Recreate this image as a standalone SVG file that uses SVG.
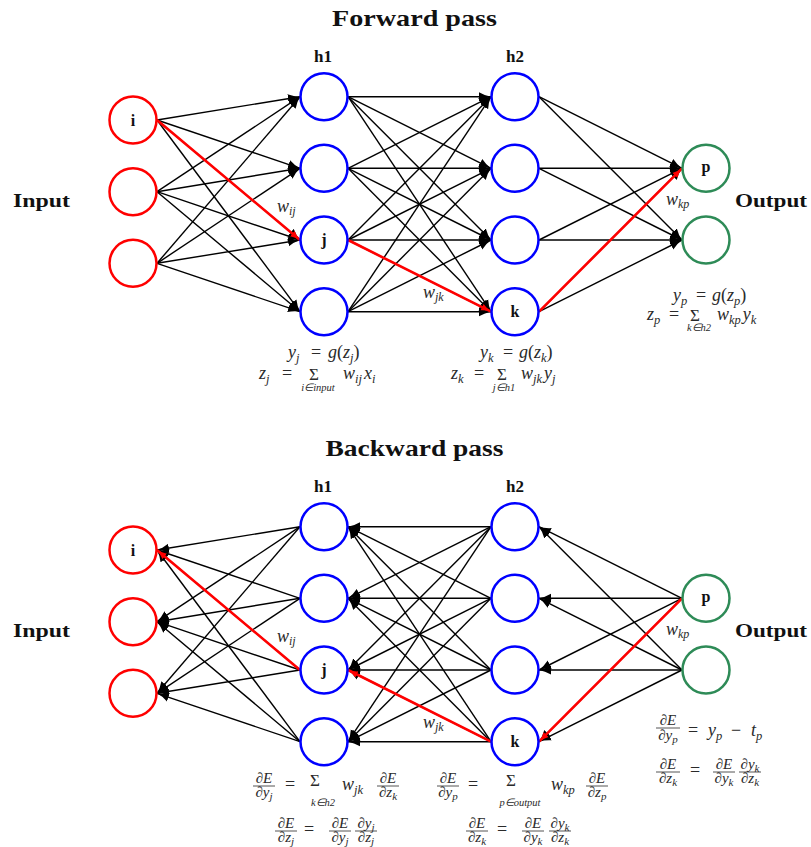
<svg xmlns="http://www.w3.org/2000/svg" width="811" height="847" viewBox="0 0 811 847">
<defs>
<style>
.t{font-family:"Liberation Serif",serif;font-weight:bold;fill:#111}
.ttl{font-size:24px;text-anchor:middle}
.lay{font-size:17px;text-anchor:middle}
.io{font-size:19px}
.lbl{font-family:"Liberation Serif",serif;font-weight:bold;font-size:16px;text-anchor:middle;fill:#111}
.n circle{fill:#fff;stroke-width:2.5}
.in circle{stroke:#f00}
.hid circle{stroke:#00f}
.out circle{stroke:#2e8b57}
.e line{stroke:#000;stroke-width:1.4;marker-end:url(#ah)}
.r line{stroke:#f00;stroke-width:2.6;marker-end:url(#ahr)}
.m{font-family:"Liberation Serif",serif;font-style:italic;font-size:18px;fill:#2a2a2a}
.up{font-style:normal}
.s{font-size:12.5px}
.sig{font-size:17px;font-style:normal}
.lim{font-size:10.5px}
.f{font-size:15px}
.fs{font-size:11px}
.w{font-size:18px}
.ws{font-size:12px}
.bar{stroke:#2a2a2a;stroke-width:0.8}
</style>
<marker id="ah" viewBox="0 0 12 10" refX="12" refY="5" markerWidth="12" markerHeight="10" markerUnits="userSpaceOnUse" orient="auto">
<path d="M0,0.5 Q6,4 12,5 Q6,6 0,9.5 z" fill="#000"/>
</marker>
<marker id="ahr" viewBox="0 0 10 8" refX="10" refY="4" markerWidth="10" markerHeight="8" markerUnits="userSpaceOnUse" orient="auto">
<path d="M0,0.5 Q5,3.3 10,4 Q5,4.7 0,7.5 z" fill="#f00"/>
</marker>
</defs>
<rect width="811" height="847" fill="#fff"/>

<!-- forward pass -->
<g id="forward">
<text class="t ttl" x="414.5" y="26" textLength="165" lengthAdjust="spacingAndGlyphs">Forward pass</text>
<text class="t lay" x="323" y="62">h1</text>
<text class="t lay" x="515" y="62">h2</text>
<text class="t io" x="13" y="207" textLength="57" lengthAdjust="spacingAndGlyphs">Input</text>
<text class="t io" x="735" y="207" textLength="72" lengthAdjust="spacingAndGlyphs">Output</text>

<g id="f-edges" class="e">
<line x1="157" y1="120" x2="300" y2="96.7"/><line x1="157" y1="120" x2="300" y2="168.3"/><line x1="157" y1="120" x2="300" y2="240"/><line x1="157" y1="120" x2="300" y2="311.7"/>
<line x1="157" y1="191.7" x2="300" y2="96.7"/><line x1="157" y1="191.7" x2="300" y2="168.3"/><line x1="157" y1="191.7" x2="300" y2="240"/><line x1="157" y1="191.7" x2="300" y2="311.7"/>
<line x1="157" y1="263.3" x2="300" y2="96.7"/><line x1="157" y1="263.3" x2="300" y2="168.3"/><line x1="157" y1="263.3" x2="300" y2="240"/><line x1="157" y1="263.3" x2="300" y2="311.7"/>
<line x1="348" y1="96.7" x2="491" y2="96.7"/><line x1="348" y1="96.7" x2="491" y2="168.3"/><line x1="348" y1="96.7" x2="491" y2="240"/><line x1="348" y1="96.7" x2="491" y2="311.7"/>
<line x1="348" y1="168.3" x2="491" y2="96.7"/><line x1="348" y1="168.3" x2="491" y2="168.3"/><line x1="348" y1="168.3" x2="491" y2="240"/><line x1="348" y1="168.3" x2="491" y2="311.7"/>
<line x1="348" y1="240" x2="491" y2="96.7"/><line x1="348" y1="240" x2="491" y2="168.3"/><line x1="348" y1="240" x2="491" y2="240"/><line x1="348" y1="240" x2="491" y2="311.7"/>
<line x1="348" y1="311.7" x2="491" y2="96.7"/><line x1="348" y1="311.7" x2="491" y2="168.3"/><line x1="348" y1="311.7" x2="491" y2="240"/><line x1="348" y1="311.7" x2="491" y2="311.7"/>
<line x1="539" y1="96.7" x2="682" y2="168.3"/><line x1="539" y1="96.7" x2="682" y2="240"/>
<line x1="539" y1="168.3" x2="682" y2="168.3"/><line x1="539" y1="168.3" x2="682" y2="240"/>
<line x1="539" y1="240" x2="682" y2="168.3"/><line x1="539" y1="240" x2="682" y2="240"/>
<line x1="539" y1="311.7" x2="682" y2="168.3"/><line x1="539" y1="311.7" x2="682" y2="240"/>
</g>
<g id="f-path" class="r">
<line x1="157" y1="120" x2="300" y2="240"/>
<line x1="348" y1="240" x2="491" y2="311.7"/>
<line x1="539" y1="311.7" x2="682" y2="168.3"/>
</g>

<g id="f-in-i" class="n in"><circle cx="133" cy="120" r="23.5"/><text class="lbl" x="133" y="126">i</text></g>
<g id="f-in-2" class="n in"><circle cx="133" cy="191.7" r="23.5"/></g>
<g id="f-in-3" class="n in"><circle cx="133" cy="263.3" r="23.5"/></g>
<g id="f-h1-1" class="n hid"><circle cx="324" cy="96.7" r="23.5"/></g>
<g id="f-h1-2" class="n hid"><circle cx="324" cy="168.3" r="23.5"/></g>
<g id="f-h1-j" class="n hid"><circle cx="324" cy="240" r="23.5"/><text class="lbl" x="324" y="245">j</text></g>
<g id="f-h1-4" class="n hid"><circle cx="324" cy="311.7" r="23.5"/></g>
<g id="f-h2-1" class="n hid"><circle cx="515" cy="96.7" r="23.5"/></g>
<g id="f-h2-2" class="n hid"><circle cx="515" cy="168.3" r="23.5"/></g>
<g id="f-h2-3" class="n hid"><circle cx="515" cy="240" r="23.5"/></g>
<g id="f-h2-k" class="n hid"><circle cx="515" cy="311.7" r="23.5"/><text class="lbl" x="515" y="317">k</text></g>
<g id="f-out-p" class="n out"><circle cx="706" cy="168.3" r="23.5"/><text class="lbl" x="706" y="172">p</text></g>
<g id="f-out-2" class="n out"><circle cx="706" cy="240" r="23.5"/></g>

<text class="m w" x="277" y="212">w<tspan class="ws" dy="3">ij</tspan></text>
<text class="m w" x="423" y="298">w<tspan class="ws" dy="3">jk</tspan></text>
<text class="m w" x="666" y="205">w<tspan class="ws" dy="3">kp</tspan></text>

<!-- activations -->
<text class="m" x="288" y="358">y<tspan class="s" dy="4">j</tspan><tspan class="up" x="311" dy="-4">=</tspan><tspan x="328">g</tspan><tspan class="up">(</tspan>z<tspan class="s" dy="4">j</tspan><tspan class="up" dy="-4">)</tspan></text>
<text class="m" x="259" y="379">z<tspan class="s" dy="4">j</tspan><tspan class="up" x="282" dy="-4">=</tspan></text>
<text class="m sig" x="314" y="380" text-anchor="middle">Σ</text>
<text class="m lim" x="318" y="391" text-anchor="middle">i∈input</text>
<text class="m" x="343" y="379">w<tspan class="s" dy="4">ij</tspan><tspan dx="2" dy="-4">x</tspan><tspan class="s" dy="4">i</tspan></text>

<text class="m" x="480" y="358">y<tspan class="s" dy="4">k</tspan><tspan class="up" x="503" dy="-4">=</tspan><tspan x="519">g</tspan><tspan class="up">(</tspan>z<tspan class="s" dy="4">k</tspan><tspan class="up" dy="-4">)</tspan></text>
<text class="m" x="451" y="379">z<tspan class="s" dy="4">k</tspan><tspan class="up" x="474" dy="-4">=</tspan></text>
<text class="m sig" x="502" y="380" text-anchor="middle">Σ</text>
<text class="m lim" x="504" y="391" text-anchor="middle">j∈h1</text>
<text class="m" x="521" y="379">w<tspan class="s" dy="4">jk</tspan><tspan dx="2" dy="-4">y</tspan><tspan class="s" dy="4">j</tspan></text>

<text class="m" x="673" y="301">y<tspan class="s" dy="4">p</tspan><tspan class="up" x="696" dy="-4">=</tspan><tspan x="712">g</tspan><tspan class="up">(</tspan>z<tspan class="s" dy="4">p</tspan><tspan class="up" dy="-4">)</tspan></text>
<text class="m" x="647" y="320">z<tspan class="s" dy="4">p</tspan><tspan class="up" x="669" dy="-4">=</tspan></text>
<text class="m sig" x="695" y="321" text-anchor="middle">Σ</text>
<text class="m lim" x="699" y="331" text-anchor="middle">k∈h2</text>
<text class="m" x="717" y="320">w<tspan class="s" dy="4">kp</tspan><tspan dx="2" dy="-4">y</tspan><tspan class="s" dy="4">k</tspan></text>
</g>

<!-- backward pass: same layout shifted down, arrows reversed -->
<g id="backward" transform="translate(0,430)">
<text class="t ttl" x="414.5" y="26" textLength="178" lengthAdjust="spacingAndGlyphs">Backward pass</text>
<text class="t lay" x="323" y="62">h1</text>
<text class="t lay" x="515" y="62">h2</text>
<text class="t io" x="13" y="207" textLength="57" lengthAdjust="spacingAndGlyphs">Input</text>
<text class="t io" x="735" y="207" textLength="72" lengthAdjust="spacingAndGlyphs">Output</text>

<g id="b-edges" class="e">
<line x2="157" y2="120" x1="300" y1="96.7"/><line x2="157" y2="120" x1="300" y1="168.3"/><line x2="157" y2="120" x1="300" y1="240"/><line x2="157" y2="120" x1="300" y1="311.7"/>
<line x2="157" y2="191.7" x1="300" y1="96.7"/><line x2="157" y2="191.7" x1="300" y1="168.3"/><line x2="157" y2="191.7" x1="300" y1="240"/><line x2="157" y2="191.7" x1="300" y1="311.7"/>
<line x2="157" y2="263.3" x1="300" y1="96.7"/><line x2="157" y2="263.3" x1="300" y1="168.3"/><line x2="157" y2="263.3" x1="300" y1="240"/><line x2="157" y2="263.3" x1="300" y1="311.7"/>
<line x2="348" y2="96.7" x1="491" y1="96.7"/><line x2="348" y2="96.7" x1="491" y1="168.3"/><line x2="348" y2="96.7" x1="491" y1="240"/><line x2="348" y2="96.7" x1="491" y1="311.7"/>
<line x2="348" y2="168.3" x1="491" y1="96.7"/><line x2="348" y2="168.3" x1="491" y1="168.3"/><line x2="348" y2="168.3" x1="491" y1="240"/><line x2="348" y2="168.3" x1="491" y1="311.7"/>
<line x2="348" y2="240" x1="491" y1="96.7"/><line x2="348" y2="240" x1="491" y1="168.3"/><line x2="348" y2="240" x1="491" y1="240"/><line x2="348" y2="240" x1="491" y1="311.7"/>
<line x2="348" y2="311.7" x1="491" y1="96.7"/><line x2="348" y2="311.7" x1="491" y1="168.3"/><line x2="348" y2="311.7" x1="491" y1="240"/><line x2="348" y2="311.7" x1="491" y1="311.7"/>
<line x2="539" y2="96.7" x1="682" y1="168.3"/><line x2="539" y2="96.7" x1="682" y1="240"/>
<line x2="539" y2="168.3" x1="682" y1="168.3"/><line x2="539" y2="168.3" x1="682" y1="240"/>
<line x2="539" y2="240" x1="682" y1="168.3"/><line x2="539" y2="240" x1="682" y1="240"/>
<line x2="539" y2="311.7" x1="682" y1="168.3"/><line x2="539" y2="311.7" x1="682" y1="240"/>
</g>
<g id="b-path" class="r">
<line x1="300" y1="240" x2="157" y2="120"/>
<line x1="491" y1="311.7" x2="348" y2="240"/>
<line x1="682" y1="168.3" x2="539" y2="311.7"/>
</g>

<g id="b-in-i" class="n in"><circle cx="133" cy="120" r="23.5"/><text class="lbl" x="133" y="126">i</text></g>
<g id="b-in-2" class="n in"><circle cx="133" cy="191.7" r="23.5"/></g>
<g id="b-in-3" class="n in"><circle cx="133" cy="263.3" r="23.5"/></g>
<g id="b-h1-1" class="n hid"><circle cx="324" cy="96.7" r="23.5"/></g>
<g id="b-h1-2" class="n hid"><circle cx="324" cy="168.3" r="23.5"/></g>
<g id="b-h1-j" class="n hid"><circle cx="324" cy="240" r="23.5"/><text class="lbl" x="324" y="245">j</text></g>
<g id="b-h1-4" class="n hid"><circle cx="324" cy="311.7" r="23.5"/></g>
<g id="b-h2-1" class="n hid"><circle cx="515" cy="96.7" r="23.5"/></g>
<g id="b-h2-2" class="n hid"><circle cx="515" cy="168.3" r="23.5"/></g>
<g id="b-h2-3" class="n hid"><circle cx="515" cy="240" r="23.5"/></g>
<g id="b-h2-k" class="n hid"><circle cx="515" cy="311.7" r="23.5"/><text class="lbl" x="515" y="317">k</text></g>
<g id="b-out-p" class="n out"><circle cx="706" cy="168.3" r="23.5"/><text class="lbl" x="706" y="172">p</text></g>
<g id="b-out-2" class="n out"><circle cx="706" cy="240" r="23.5"/></g>

<text class="m w" x="277" y="212">w<tspan class="ws" dy="3">ij</tspan></text>
<text class="m w" x="423" y="298">w<tspan class="ws" dy="3">jk</tspan></text>
<text class="m w" x="666" y="205">w<tspan class="ws" dy="3">kp</tspan></text>
</g>

<!-- gradients -->
<g id="grad-h1">
<text class="m f" x="264" y="783" text-anchor="middle">∂E</text><line class="bar" x1="253" y1="786" x2="275" y2="786"/><text class="m f" x="264" y="797" text-anchor="middle">∂y<tspan class="fs" dy="3">j</tspan></text>
<text class="m up" x="285" y="790">=</text>
<text class="m sig" x="315" y="786" text-anchor="middle">Σ</text>
<text class="m lim" x="323" y="806" text-anchor="middle">k∈h2</text>
<text class="m" x="342" y="790">w<tspan class="s" dy="4">jk</tspan></text>
<text class="m f" x="388" y="783" text-anchor="middle">∂E</text><line class="bar" x1="377" y1="786" x2="399" y2="786"/><text class="m f" x="388" y="797" text-anchor="middle">∂z<tspan class="fs" dy="3">k</tspan></text>

<text class="m f" x="286" y="828" text-anchor="middle">∂E</text><line class="bar" x1="275" y1="831" x2="297" y2="831"/><text class="m f" x="286" y="842" text-anchor="middle">∂z<tspan class="fs" dy="3">j</tspan></text>
<text class="m up" x="304" y="835">=</text>
<text class="m f" x="340" y="828" text-anchor="middle">∂E</text><line class="bar" x1="329" y1="831" x2="351" y2="831"/><text class="m f" x="340" y="842" text-anchor="middle">∂y<tspan class="fs" dy="3">j</tspan></text>
<text class="m f" x="366" y="828" text-anchor="middle">∂y<tspan class="fs" dy="3">j</tspan></text><line class="bar" x1="355" y1="831" x2="377" y2="831"/><text class="m f" x="366" y="842" text-anchor="middle">∂z<tspan class="fs" dy="3">j</tspan></text>
</g>

<g id="grad-h2">
<text class="m f" x="448" y="783" text-anchor="middle">∂E</text><line class="bar" x1="437" y1="786" x2="459" y2="786"/><text class="m f" x="448" y="797" text-anchor="middle">∂y<tspan class="fs" dy="3">p</tspan></text>
<text class="m up" x="468" y="790">=</text>
<text class="m sig" x="511" y="786" text-anchor="middle">Σ</text>
<text class="m lim" x="520" y="806" text-anchor="middle">p∈output</text>
<text class="m" x="551" y="790">w<tspan class="s" dy="4">kp</tspan></text>
<text class="m f" x="597" y="783" text-anchor="middle">∂E</text><line class="bar" x1="586" y1="786" x2="608" y2="786"/><text class="m f" x="597" y="797" text-anchor="middle">∂z<tspan class="fs" dy="3">p</tspan></text>

<text class="m f" x="477" y="828" text-anchor="middle">∂E</text><line class="bar" x1="466" y1="831" x2="488" y2="831"/><text class="m f" x="477" y="842" text-anchor="middle">∂z<tspan class="fs" dy="3">k</tspan></text>
<text class="m up" x="497" y="835">=</text>
<text class="m f" x="533" y="828" text-anchor="middle">∂E</text><line class="bar" x1="522" y1="831" x2="544" y2="831"/><text class="m f" x="533" y="842" text-anchor="middle">∂y<tspan class="fs" dy="3">k</tspan></text>
<text class="m f" x="560" y="828" text-anchor="middle">∂y<tspan class="fs" dy="3">k</tspan></text><line class="bar" x1="549" y1="831" x2="571" y2="831"/><text class="m f" x="560" y="842" text-anchor="middle">∂z<tspan class="fs" dy="3">k</tspan></text>
</g>

<g id="grad-out">
<text class="m f" x="668" y="725" text-anchor="middle">∂E</text><line class="bar" x1="656" y1="728" x2="680" y2="728"/><text class="m f" x="668" y="740" text-anchor="middle">∂y<tspan class="fs" dy="3">p</tspan></text>
<text class="m up" x="688" y="736">=</text>
<text class="m" x="708" y="736">y<tspan class="s" dy="4">p</tspan><tspan class="up" x="731" dy="-4">−</tspan><tspan x="751">t</tspan><tspan class="s" dy="4">p</tspan></text>

<text class="m f" x="668" y="769" text-anchor="middle">∂E</text><line class="bar" x1="656" y1="772" x2="680" y2="772"/><text class="m f" x="668" y="783" text-anchor="middle">∂z<tspan class="fs" dy="3">k</tspan></text>
<text class="m up" x="690" y="776">=</text>
<text class="m f" x="724" y="769" text-anchor="middle">∂E</text><line class="bar" x1="713" y1="772" x2="735" y2="772"/><text class="m f" x="724" y="783" text-anchor="middle">∂y<tspan class="fs" dy="3">k</tspan></text>
<text class="m f" x="750" y="769" text-anchor="middle">∂y<tspan class="fs" dy="3">k</tspan></text><line class="bar" x1="739" y1="772" x2="761" y2="772"/><text class="m f" x="750" y="783" text-anchor="middle">∂z<tspan class="fs" dy="3">k</tspan></text>
</g>
</svg>
